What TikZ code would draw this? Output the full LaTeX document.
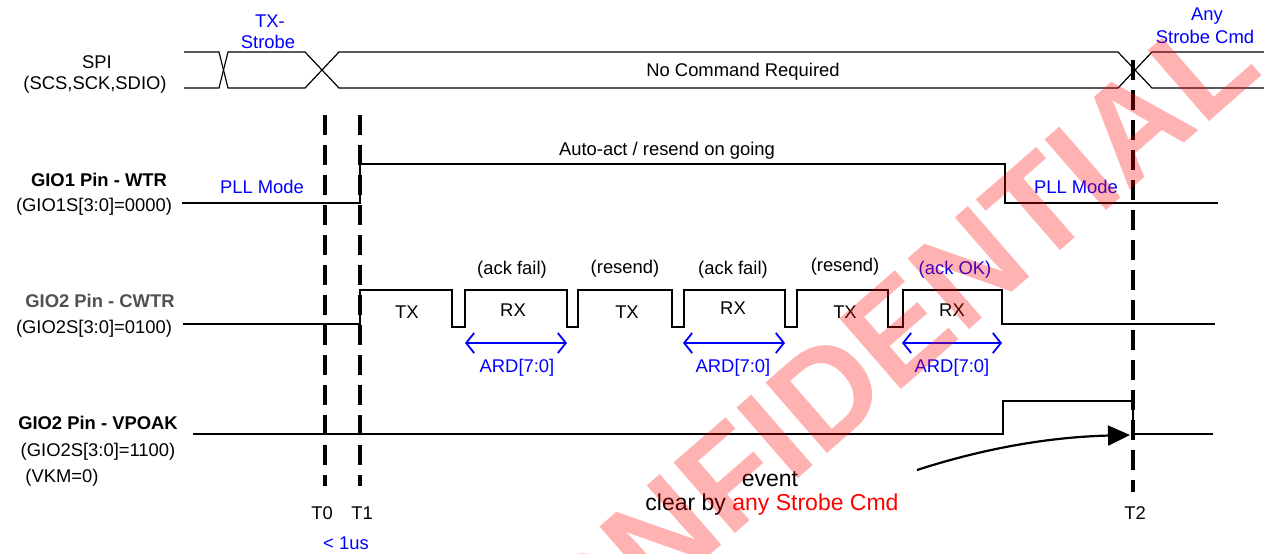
\documentclass[tikz,border=0pt]{standalone}
\usepackage{fontspec}
\setmainfont{Liberation Sans}
\usetikzlibrary{arrows.meta}
\definecolor{txtblue}{RGB}{0,0,255}
\definecolor{txtred}{RGB}{255,0,0}
\definecolor{txtgray}{RGB}{80,80,80}
\begin{document}
\begin{tikzpicture}[x=0.5pt,y=-0.5pt,
  every node/.style={font=\fontsize{9.2}{11}\selectfont, inner sep=0pt},
  blu/.style={text=txtblue},
  boldlbl/.style={font=\fontsize{9.2}{11}\selectfont\bfseries},
  biglbl/.style={font=\fontsize{11.5}{13}\selectfont},
  sig/.style={line width=1.2pt, line join=miter},
  bus/.style={line width=0.6pt},
  tline/.style={line width=1.6pt, dash pattern=on 10pt off 5pt},
  ard/.style={draw=txtblue, line width=0.9pt, {Straight Barb[length=4pt,width=10pt]}-{Straight Barb[length=4pt,width=10pt]}},
  evarrow/.style={line width=1.1pt, -{Triangle[length=11pt,width=10pt]}},
  wmark/.style={rotate=41, text=red, opacity=0.3, font=\fontsize{68}{68}\selectfont\bfseries},
]
\useasboundingbox (0,0) rectangle (1264,553);

% ---------------- SPI bus ----------------
\draw[bus] (184,52) -- (219,52) -- (228,88) -- (305,88) -- (339,52) -- (1118,52) -- (1152,88) -- (1264,88);
\draw[bus] (184,88) -- (219,88) -- (228,52) -- (305,52) -- (339,88) -- (1118,88) -- (1152,52) -- (1264,52);

\node (spi1) at (97,62) {SPI};
\node (spi2) at (95,85) {(SCS,SCK,SDIO)};
\node[blu] (txs1) at (270,21) {TX-};
\node[blu] (txs2) at (268,42) {Strobe};
\node (nocmd) at (743,72) {No Command Required};
\node[blu] (any1) at (1207,16) {Any};
\node[blu] (any2) at (1205,37) {Strobe Cmd};

% ---------------- time markers ----------------
\coordinate (t0top) at (325,115);
\coordinate (t0bot) at (325,486);
\coordinate (t1top) at (360,115);
\coordinate (t1bot) at (360,486);
\coordinate (t2top) at (1133,60);
\coordinate (t2bot) at (1133,492);
\draw[tline] (t0top) -- (t0bot);
\draw[tline] (t1top) -- (t1bot);
\draw[tline] (t2top) -- (t2bot);

\node (T0) at (322,513) {T0};
\node (T1) at (362,513) {T1};
\node (T2) at (1135,513) {T2};
\node[blu] (lt1us) at (346,543) {< 1us};

% ---------------- GIO1 WTR ----------------
\draw[sig] (182,203) -- (360,203) -- (360,164) -- (1005,164) -- (1005,203) -- (1218,203);
\node[boldlbl] (g1a) at (99,180) {GIO1 Pin - WTR};
\node (g1b) at (94,207) {(GIO1S[3:0]=0000)};
\node[blu] (pll1) at (262,187) {PLL Mode};
\node[blu] (pll2) at (1076,187) {PLL Mode};
\node (auto) at (667,151) {Auto-act / resend on going};

% ---------------- GIO2 CWTR ----------------
\draw[sig] (183,324) -- (360,324) -- (360,290) -- (452,290) -- (452,327) -- (465,327)
  -- (465,290) -- (567,290) -- (567,327) -- (578,327) -- (578,290) -- (672,290)
  -- (672,327) -- (684,327) -- (684,290) -- (785,290) -- (785,327) -- (797,327)
  -- (797,290) -- (888,290) -- (888,327) -- (903,327) -- (903,290) -- (1002,290)
  -- (1002,324) -- (1215,324);
\node[boldlbl, text=txtgray] (g2a) at (100,301) {GIO2 Pin - CWTR};
\node (g2b) at (94,329) {(GIO2S[3:0]=0100)};

\node (tx1) at (407,312) {TX};
\node (rx1) at (513,310) {RX};
\node (tx2) at (627,312) {TX};
\node (rx2) at (733,308) {RX};
\node (tx3) at (845,312) {TX};
\node (rx3) at (952,310) {RX};

\node (af1) at (512,270) {(ack fail)};
\node (rs1) at (625,269) {(resend)};
\node (af2) at (733,270) {(ack fail)};
\node (rs2) at (845,267) {(resend)};
\node[blu] (aok) at (955,270) {(ack OK)};

\coordinate (a1l) at (465,343); \coordinate (a1r) at (567,343);
\coordinate (a2l) at (683,343); \coordinate (a2r) at (785,343);
\coordinate (a3l) at (902,343); \coordinate (a3r) at (1002,343);
\draw[ard] (a1l) -- (a1r);
\draw[ard] (a2l) -- (a2r);
\draw[ard] (a3l) -- (a3r);
\node[blu] (ard1) at (517,368) {ARD[7:0]};
\node[blu] (ard2) at (733,368) {ARD[7:0]};
\node[blu] (ard3) at (952,368) {ARD[7:0]};

% ---------------- GIO2 VPOAK ----------------
\draw[sig] (193,434) -- (1003,434) -- (1003,401) -- (1133,401) -- (1133,434) -- (1213,434);
\node[boldlbl] (g3a) at (98,423) {GIO2 Pin - VPOAK};
\node (g3b) at (98,452) {(GIO2S[3:0]=1100)};
\node (g3c) at (62,478) {(VKM=0)};

\node[biglbl] (ev1) at (770,479) {event};
\node[biglbl] (ev2) at (772,505) {clear by \textcolor{txtred}{any Strobe Cmd}};

\coordinate (evs) at (917,470);
\coordinate (eve) at (1130,435);
\draw[evarrow] (evs) .. controls (985,448) and (1050,437) .. (eve);

% ---------------- watermark ----------------
\node[wmark] (wm) at (852,370) {CONFIDENTIAL};
\end{tikzpicture}
\end{document}
